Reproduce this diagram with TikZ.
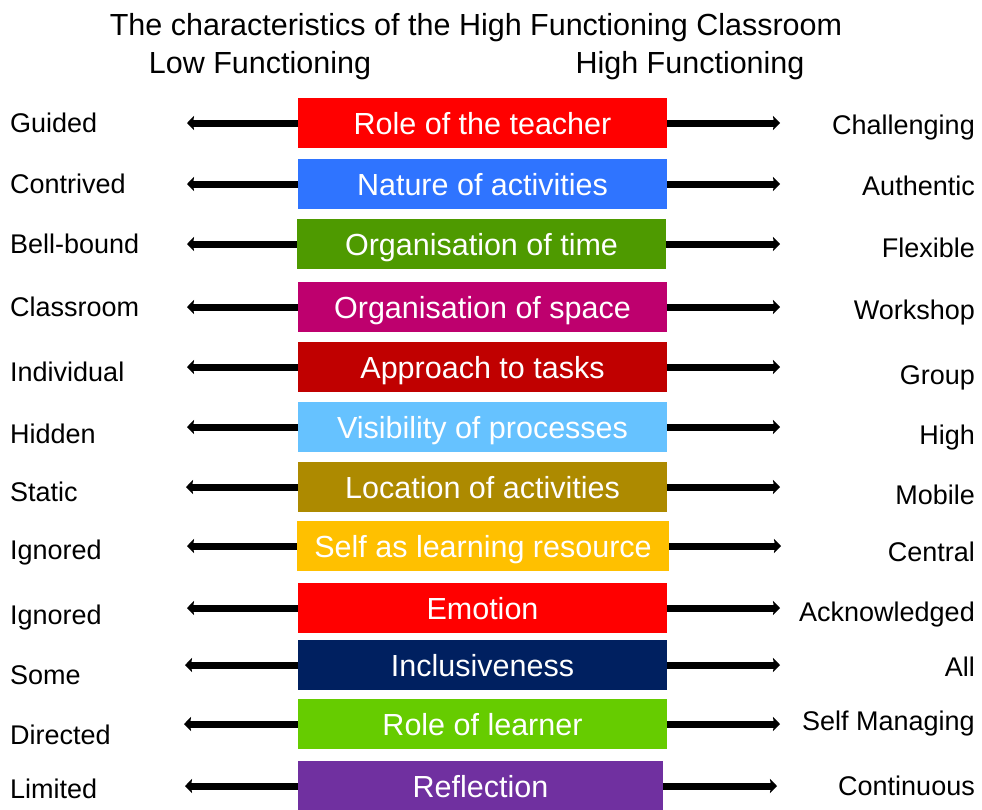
\documentclass[tikz,border=0pt]{standalone}
\usepackage{fontspec}
\setmainfont{Liberation Sans}
\usetikzlibrary{arrows.meta}
\definecolor{teacherred}{HTML}{FF0000}
\definecolor{activityblue}{HTML}{2F74FF}
\definecolor{timegreen}{HTML}{4E9A00}
\definecolor{spacemagenta}{HTML}{BE006E}
\definecolor{taskred}{HTML}{C00000}
\definecolor{processblue}{HTML}{66C2FF}
\definecolor{locationolive}{HTML}{AD8A00}
\definecolor{selfamber}{HTML}{FFC000}
\definecolor{emotionred}{HTML}{FF0000}
\definecolor{inclusivenavy}{HTML}{002060}
\definecolor{learnergreen}{HTML}{66CC00}
\definecolor{reflectionpurple}{HTML}{7030A0}
\tikzset{
    x=1pt, y=-1pt, % pixel grid, y down
    heading/.style={anchor=base, inner sep=0pt, font=\fontsize{30.5}{32}\selectfont}, % Title lines
    trait/.style={fill=#1, text=white, minimum width=369pt, minimum height=50pt,
        inner sep=0pt, text height=23pt, text depth=0pt,
        font=\fontsize{30.5}{32}\selectfont}, % Coloured bars
    low/.style={anchor=base west, inner sep=0pt, font=\fontsize{27}{29}\selectfont}, % Left column
    high/.style={anchor=base east, inner sep=0pt, font=\fontsize{27}{29}\selectfont}, % Right column
    pole/.style={-{Stealth[length=7pt, width=14pt, inset=1pt]}, line width=7pt}, % Arrows
}

\begin{document}
\begin{tikzpicture}
    \useasboundingbox (0,0) rectangle (982,809);

    \node[heading] (title) at (476,35) {The characteristics of the High Functioning Classroom};
    \node[heading] (lowhead) at (260,73) {Low Functioning};
    \node[heading] (highhead) at (690,73) {High Functioning};

    \node[trait=teacherred] (teacher) at (482.5,123) {Role of the teacher};
    \node[trait=activityblue] (activities) at (482.5,184) {Nature of activities};
    \node[trait=timegreen] (time) at (481.5,244) {Organisation of time};
    \node[trait=spacemagenta] (space) at (482.5,307) {Organisation of space};
    \node[trait=taskred] (tasks) at (482.5,367) {Approach to tasks};
    \node[trait=processblue] (processes) at (482.5,427) {Visibility of processes};
    \node[trait=locationolive] (location) at (482.5,487) {Location of activities};
    \node[trait=selfamber, minimum width=372pt] (resource) at (483,546) {Self as learning resource};
    \node[trait=emotionred] (emotion) at (482.5,608) {Emotion};
    \node[trait=inclusivenavy] (inclusive) at (482.5,665) {Inclusiveness};
    \node[trait=learnergreen] (learner) at (482.5,724) {Role of learner};
    \node[trait=reflectionpurple, minimum width=365pt] (reflection) at (480.5,786) {Reflection};

    \node[low] (guided) at (10,132) {Guided};
    \node[low] (contrived) at (10,193) {Contrived};
    \node[low] (bellbound) at (10,253) {Bell-bound};
    \node[low] (classroom) at (10,316) {Classroom};
    \node[low] (individual) at (10,381) {Individual};
    \node[low] (hidden) at (10,443) {Hidden};
    \node[low] (static) at (10,501) {Static};
    \node[low] (ignored) at (10,559) {Ignored};
    \node[low] (ignoredtoo) at (10,624) {Ignored};
    \node[low] (some) at (10,684) {Some};
    \node[low] (directed) at (10,744) {Directed};
    \node[low] (limited) at (10,798) {Limited};

    \node[high] (challenging) at (975,134) {Challenging};
    \node[high] (authentic) at (975,195) {Authentic};
    \node[high] (flexible) at (975,257) {Flexible};
    \node[high] (workshop) at (975,319) {Workshop};
    \node[high] (group) at (975,384) {Group};
    \node[high] (highvis) at (975,444) {High};
    \node[high] (mobile) at (975,504) {Mobile};
    \node[high] (central) at (975,561) {Central};
    \node[high] (acknowledged) at (975,621) {Acknowledged};
    \node[high] (all) at (975,676) {All};
    \node[high] (selfmanaging) at (975,730) {Self Managing};
    \node[high] (continuous) at (975,795) {Continuous};

    % arrow tips
    \coordinate (teacher-lo) at (187,123);       \coordinate (teacher-hi) at (780,123);
    \coordinate (activities-lo) at (187,184);    \coordinate (activities-hi) at (780,184);
    \coordinate (time-lo) at (187,244);          \coordinate (time-hi) at (780,244);
    \coordinate (space-lo) at (187,307);         \coordinate (space-hi) at (780,307);
    \coordinate (tasks-lo) at (187,367);         \coordinate (tasks-hi) at (780,367);
    \coordinate (processes-lo) at (187,427);     \coordinate (processes-hi) at (780,427);
    \coordinate (location-lo) at (186,487);      \coordinate (location-hi) at (780,487);
    \coordinate (resource-lo) at (187,546);      \coordinate (resource-hi) at (781,546);
    \coordinate (emotion-lo) at (187,608);       \coordinate (emotion-hi) at (780,608);
    \coordinate (inclusive-lo) at (185,665);     \coordinate (inclusive-hi) at (780,665);
    \coordinate (learner-lo) at (184,724);       \coordinate (learner-hi) at (780,724);
    \coordinate (reflection-lo) at (185,786);    \coordinate (reflection-hi) at (777,786);

    \path[pole]
        (teacher.west) edge (teacher-lo)
        (teacher.east) edge (teacher-hi)
        (activities.west) edge (activities-lo)
        (activities.east) edge (activities-hi)
        (time.west) edge (time-lo)
        (time.east) edge (time-hi)
        (space.west) edge (space-lo)
        (space.east) edge (space-hi)
        (tasks.west) edge (tasks-lo)
        (tasks.east) edge (tasks-hi)
        (processes.west) edge (processes-lo)
        (processes.east) edge (processes-hi)
        (location.west) edge (location-lo)
        (location.east) edge (location-hi)
        (resource.west) edge (resource-lo)
        (resource.east) edge (resource-hi)
        (emotion.west) edge (emotion-lo)
        (emotion.east) edge (emotion-hi)
        (inclusive.west) edge (inclusive-lo)
        (inclusive.east) edge (inclusive-hi)
        (learner.west) edge (learner-lo)
        (learner.east) edge (learner-hi)
        (reflection.west) edge (reflection-lo)
        (reflection.east) edge (reflection-hi);
\end{tikzpicture}
\end{document}
